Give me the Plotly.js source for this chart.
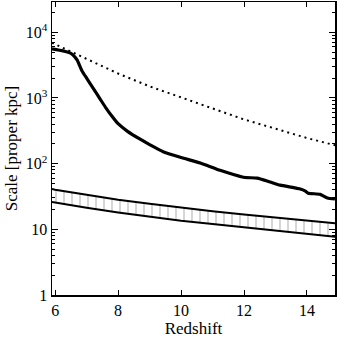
<!DOCTYPE html>
<html>
<head>
<meta charset="utf-8">
<script src="https://cdn.plot.ly/plotly-3.0.1.min.js"></script>
<style>
  html, body { margin: 0; padding: 0; background: #fff; }
  #chart { width: 338px; height: 338px; }
</style>
</head>
<body>
<div id="chart"></div>
<script>
// Thick solid curve
const zSolid = [5.9, 6.25, 6.47, 6.57, 6.7, 6.85, 7.0, 7.2, 7.43, 7.6, 7.8, 8.0, 8.3, 8.7, 9.0, 9.43, 10.0, 10.61, 11.24, 11.98, 12.42, 12.8, 13.15, 13.79, 13.95, 14.04, 14.42, 14.65, 14.89];
const scaleSolid = [5600, 5200, 4840, 4470, 3750, 2600, 2000, 1420, 960, 720, 530, 405, 310, 235, 195, 152, 124, 102, 79, 62, 60, 53, 47, 41, 38, 35.5, 34, 30, 29];

// Dotted curve
const zDot = [5.9, 6.5, 7.0, 7.5, 8.0, 9.0, 10.0, 11.0, 12.0, 13.0, 14.0, 14.9];
const scaleDot = [6900, 5100, 3900, 3000, 2350, 1500, 1020, 690, 470, 340, 245, 190];

// Hatched band (upper / lower edges)
const zBand = [5.9, 6, 7, 8, 9, 10, 11, 12, 13, 14, 14.9];
const bandUpper = [41, 40, 33.5, 28.2, 24.5, 21.4, 18.9, 16.8, 15, 13.4, 12.3];
const bandLower = [26, 25.5, 21.3, 18, 15.5, 13.5, 12, 10.7, 9.5, 8.5, 7.7];

// Axis ticks
const xTicks = [6, 8, 10, 12, 14];
const yTicks = [1, 10, 100, 1000, 10000];
const yTickText = ['1', '10', '10<sup>2</sup>', '10<sup>3</sup>', '10<sup>4</sup>'];

const yMinor = [];
for (let d = 1; d <= 10000; d *= 10) {
    for (let m = 2; m <= 9; m++) yMinor.push(d * m);
}

const FONT = 'Liberation Serif, Times New Roman, serif';

const traces = [
    { x: zBand, y: bandLower, type: 'scatter', mode: 'lines',
      line: { color: '#000', width: 2 } },
    { x: zBand, y: bandUpper, type: 'scatter', mode: 'lines',
      line: { color: '#000', width: 2 },
      fill: 'tonexty', fillcolor: 'rgba(255,255,255,0)',
      fillpattern: { shape: '|', fgcolor: '#b5b5b5', bgcolor: 'rgba(255,255,255,0)', size: 8, solidity: 0.14 } },
    { x: zDot, y: scaleDot, type: 'scatter', mode: 'lines',
      line: { color: '#000', width: 2, dash: '2px,4px' } },
    { x: zSolid, y: scaleSolid, type: 'scatter', mode: 'lines',
      line: { color: '#000', width: 3.2, shape: 'spline', smoothing: 0.5 } }
];

const layout = {
    width: 338, height: 338,
    margin: { l: 52, r: 3, t: 2, b: 43 },
    paper_bgcolor: '#fff', plot_bgcolor: '#fff',
    showlegend: false,
    font: { family: FONT, size: 16, color: '#000' },
    xaxis: {
        range: [5.9, 14.89],
        tickmode: 'array', tickvals: xTicks,
        ticks: 'inside', ticklen: 5, tickwidth: 1, tickcolor: '#000',
        showline: true, linecolor: '#000', linewidth: 1.5, mirror: 'ticks',
        showgrid: false, zeroline: false,
        tickfont: { family: FONT, size: 16 },
        title: { text: 'Redshift', font: { family: FONT, size: 17 }, standoff: 5 }
    },
    yaxis: {
        type: 'log', range: [0, 4.46],
        tickmode: 'array', tickvals: yTicks, ticktext: yTickText,
        ticks: 'inside', ticklen: 6, tickwidth: 1, tickcolor: '#000',
        minor: { tickmode: 'array', tickvals: yMinor, ticks: 'inside', ticklen: 3, tickwidth: 1, tickcolor: '#000', showgrid: false },
        showline: true, linecolor: '#000', linewidth: 1.5, mirror: 'ticks',
        showgrid: false, zeroline: false,
        tickfont: { family: FONT, size: 16 },
        title: { text: 'Scale [proper kpc]', font: { family: FONT, size: 17 }, standoff: 4 }
    }
};

Plotly.newPlot('chart', traces, layout, { displayModeBar: false, staticPlot: true });
</script>
</body>
</html>
